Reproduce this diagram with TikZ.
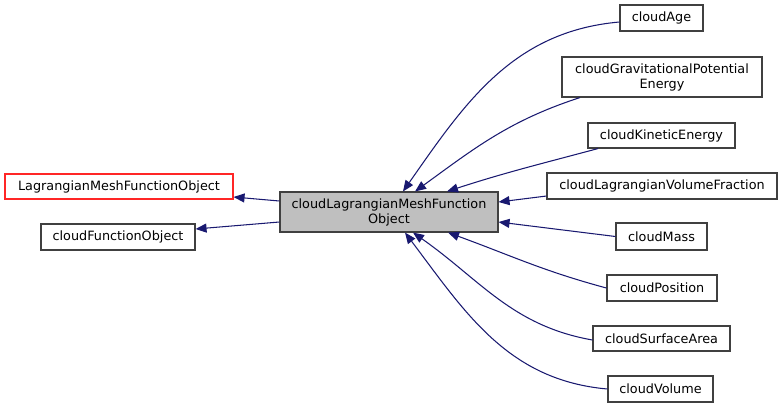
\documentclass[tikz,border=0pt]{standalone}
\usepackage{fontspec}
\setmainfont{DejaVu Sans}
\usetikzlibrary{arrows.meta, positioning}
\definecolor{edgeblue}{HTML}{191970}
\definecolor{boxgray}{HTML}{BFBFBF}
\definecolor{boxline}{HTML}{404040}

\begin{document}
\begin{tikzpicture}[x=1pt, y=1pt,
    cls/.style={rectangle, draw=boxline, line width=1.1pt, fill=white, inner sep=0pt, align=center, text centered, font=\fontsize{12.8}{15}\selectfont},
    base/.style={cls, fill=boxgray},
    ext/.style={cls, draw=red!85},
    flow/.style={-{Stealth[length=11pt, width=9pt, inset=0pt]}, draw=edgeblue, line width=1.05pt}
]
    \useasboundingbox (0,0) rectangle (783,-408);

    % Base classes
    \node[ext, minimum width=228, minimum height=25] (lmfo) at (119,-186.5) {LagrangianMeshFunctionObject};
    \node[cls, minimum width=154, minimum height=26] (cfo) at (118,-237) {cloudFunctionObject};

    % The class itself
    \node[base, minimum width=218, minimum height=40] (clmfo) at (389,-212) {cloudLagrangianMeshFunction\\Object};
    \draw[flow] (clmfo.west |- 0,-201) -- (lmfo.east |- 0,-197);
    \draw[flow] (clmfo.west |- 0,-222) -- (cfo.east |- 0,-229);

    % Derived classes
    \node[cls, minimum width=83, minimum height=26] (age) at (661.5,-18) {cloudAge};
    \node[cls, minimum width=200, minimum height=40] (grav) at (662,-77) {cloudGravitationalPotential\\Energy};
    \node[cls, minimum width=147, minimum height=25] (kin) at (661.5,-135.5) {cloudKineticEnergy};
    \node[cls, minimum width=230, minimum height=26] (lvf) at (662,-186) {cloudLagrangianVolumeFraction};
    \node[cls, minimum width=91, minimum height=27] (mass) at (661.5,-236.5) {cloudMass};
    \node[cls, minimum width=110, minimum height=26] (pos) at (662,-288) {cloudPosition};
    \node[cls, minimum width=137, minimum height=25] (surf) at (661.5,-338.5) {cloudSurfaceArea};
    \node[cls, minimum width=105, minimum height=26] (vol) at (660.5,-389) {cloudVolume};

    \draw[flow] (age.west |- 0,-22) to[out=185, in=55] ([xshift=14pt]clmfo.north);
    \draw[flow] (grav.south -| 580,0) to[out=198, in=36] ([xshift=26pt]clmfo.north);
    \draw[flow] (kin.south -| 598,0) to[out=195, in=18] ([xshift=58pt]clmfo.north);
    \draw[flow] (lvf.west |- 0,-196) -- (clmfo.east |- 0,-202);
    \draw[flow] (mass.west) -- (clmfo.east |- 0,-222);
    \draw[flow] (pos.west |- 0,-288) to[out=165, in=-20] ([xshift=59pt]clmfo.south);
    \draw[flow] (surf.west |- 0,-340) to[out=170, in=-35] ([xshift=24pt]clmfo.south);
    \draw[flow] (vol.west |- 0,-389) to[out=175, in=-53] ([xshift=16pt]clmfo.south);

\end{tikzpicture}
\end{document}
